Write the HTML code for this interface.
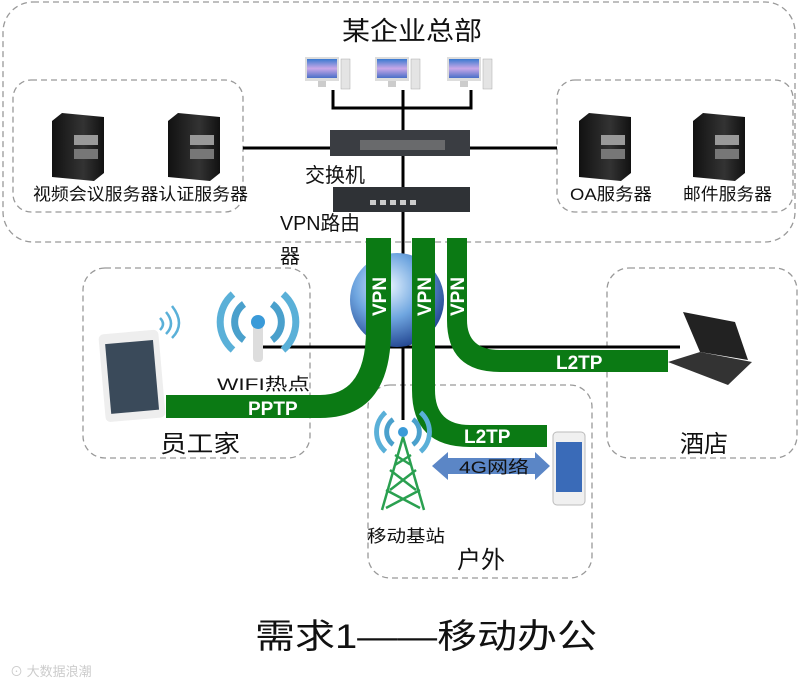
<!DOCTYPE html>
<html><head><meta charset="utf-8"><style>
html,body{margin:0;padding:0;background:#fff;}
svg{display:block;font-family:"Liberation Sans","Noto Sans CJK SC",sans-serif;}
</style></head><body>
<svg width="800" height="685" viewBox="0 0 800 685" xmlns="http://www.w3.org/2000/svg">
<defs>
<radialGradient id="gl" cx="0.4" cy="0.35" r="0.7"><stop offset="0" stop-color="#e8f4ff"/><stop offset="0.5" stop-color="#6fa6e0"/><stop offset="1" stop-color="#1d3f8c"/></radialGradient>
<linearGradient id="srv" x1="0" x2="1"><stop offset="0" stop-color="#111"/><stop offset="0.6" stop-color="#333"/><stop offset="1" stop-color="#111"/></linearGradient>
<linearGradient id="mon" x1="0" y1="0" x2="0" y2="1"><stop offset="0" stop-color="#3a7ad0"/><stop offset="0.5" stop-color="#c9a8e8"/><stop offset="1" stop-color="#4a6fc8"/></linearGradient>
<g id="server"><polygon points="0,8 10,0 52,4 52,60 42,68 0,64" fill="url(#srv)"/><rect x="22" y="22" width="24" height="10" fill="#999"/><rect x="22" y="36" width="24" height="10" fill="#777"/></g>
<g id="pc"><rect x="0" y="0" width="34" height="24" fill="#ddd"/><rect x="2" y="2" width="30" height="19" fill="url(#mon)"/><rect x="13" y="24" width="8" height="6" fill="#ccc"/><rect x="36" y="2" width="9" height="30" fill="#e4e4e4" stroke="#aaa" stroke-width="0.5"/></g>
<g id="wifi" fill="none" stroke="#4aa0cc" stroke-width="7"><path d="M-14,-18 A22,22 0 0 0 -14,18"/><path d="M14,-18 A22,22 0 0 1 14,18"/><path d="M-25,-28 A37,37 0 0 0 -25,28" stroke="#5ab0d8"/><path d="M25,-28 A37,37 0 0 1 25,28" stroke="#5ab0d8"/></g>
</defs>
<g fill="none" stroke="#999" stroke-width="1.3" stroke-dasharray="6,4">
<rect x="3" y="2" width="792" height="240" rx="30"/>
<rect x="13" y="80" width="230" height="132" rx="18"/>
<rect x="557" y="80" width="236" height="132" rx="18"/>
<rect x="83" y="268" width="227" height="190" rx="22"/>
<rect x="607" y="268" width="190" height="190" rx="22"/>
<rect x="368" y="385" width="224" height="193" rx="22"/>
</g>
<text x="412" y="40" font-size="26" text-anchor="middle" fill="#111" textLength="140" lengthAdjust="spacingAndGlyphs">某企业总部</text>
<use href="#pc" x="305" y="57"/><use href="#pc" x="375" y="57"/><use href="#pc" x="447" y="57"/>
<g stroke="#000" stroke-width="3" fill="none">
<path d="M333,90 V108 H471 V90 M403,90 V130"/>
<path d="M243,148 H557"/>
<path d="M403,156 V420"/>
<path d="M258,347 H680"/>
</g>
<use href="#server" x="52" y="113"/><use href="#server" x="168" y="113"/><use href="#server" x="579" y="113"/><use href="#server" x="693" y="113"/>
<rect x="330" y="130" width="140" height="26" fill="#3a3d42"/><rect x="360" y="140" width="85" height="10" fill="#888" opacity="0.6"/>
<text x="305" y="182" font-size="20" fill="#111">交换机</text>
<rect x="333" y="187" width="137" height="25" fill="#2f3236"/><g fill="#ccc"><rect x="370" y="200" width="6" height="5"/><rect x="380" y="200" width="6" height="5"/><rect x="390" y="200" width="6" height="5"/><rect x="400" y="200" width="6" height="5"/><rect x="410" y="200" width="6" height="5"/></g>
<g font-size="17" fill="#111"><text x="33" y="200" textLength="215" lengthAdjust="spacingAndGlyphs">视频会议服务器认证服务器</text><text x="570" y="200" textLength="82" lengthAdjust="spacingAndGlyphs">OA服务器</text><text x="683" y="200" textLength="89" lengthAdjust="spacingAndGlyphs">邮件服务器</text></g>
<text x="280" y="230" font-size="20" fill="#111" textLength="80" lengthAdjust="spacingAndGlyphs">VPN路由</text><text x="280" y="263" font-size="20" fill="#111">器</text>
<circle cx="397" cy="300" r="47" fill="url(#gl)"/>
<g fill="#0b7a14">
<path d="M366,238 H391 V330 Q391,418 320,418 H166 V395 H320 Q366,395 366,330 Z"/>
<path d="M412,238 H435 V390 Q435,425 470,425 H547 V447 H470 Q412,447 412,390 Z"/>
<path d="M447,238 H467 V320 Q467,350 500,350 H668 V372 H500 Q447,372 447,320 Z"/>
</g>
<g fill="#fff" font-weight="bold" font-size="19">
<text transform="translate(386,316) rotate(-90)">VPN</text>
<text transform="translate(431,316) rotate(-90)">VPN</text>
<text transform="translate(464,316) rotate(-90)">VPN</text>
<text x="248" y="415">PPTP</text><text x="464" y="443">L2TP</text><text x="556" y="369">L2TP</text>
</g>
<use href="#wifi" x="258" y="322"/><rect x="253" y="322" width="10" height="40" rx="4" fill="#ddd"/><circle cx="258" cy="322" r="7" fill="#3a9ad8"/>
<g fill="none" stroke="#5ab0d8" stroke-width="2.5"><path d="M160,330 q6,-6 0,-12"/><path d="M166,334 q10,-10 0,-22"/><path d="M172,338 q14,-14 0,-32"/></g>
<rect x="102" y="332" width="60" height="88" rx="5" fill="#eee" transform="rotate(-5 131 376)"/><rect x="108" y="342" width="48" height="70" fill="#3a4a5a" transform="rotate(-5 131 376)"/>
<g font-size="17" fill="#111"><text x="217" y="390" textLength="93" lengthAdjust="spacingAndGlyphs">WIFI热点</text><text x="367" y="542" textLength="78" lengthAdjust="spacingAndGlyphs">移动基站</text></g>
<g font-size="24" fill="#111"><text x="160" y="452" textLength="80" lengthAdjust="spacingAndGlyphs">员工家</text><text x="680" y="452">酒店</text><text x="457" y="568">户外</text></g>
<use href="#wifi" x="403" y="432" transform="translate(403 432) scale(0.7) translate(-403 -432)"/><circle cx="403" cy="432" r="5" fill="#3a9ad8"/>
<g stroke="#2aa050" stroke-width="2.5" fill="none"><path d="M403,437 L382,510 M403,437 L424,510 M390,470 L416,490 M416,470 L390,490 M386,490 L420,508 M420,490 L386,508 M395,455 L411,465 M411,455 L395,465"/></g>
<polygon points="432,466 448,452 448,458 535,458 535,452 550,466 535,480 535,474 448,474 448,480" fill="#5b86c6"/>
<text x="459" y="473" font-size="17" fill="#111" textLength="70" lengthAdjust="spacingAndGlyphs">4G网络</text>
<rect x="553" y="432" width="32" height="73" rx="4" fill="#f0f0f0" stroke="#bbb"/><rect x="556" y="442" width="26" height="50" fill="#3a6bb8"/>
<polygon points="683,312 735,322 748,360 700,352" fill="#222"/><polygon points="668,362 700,352 752,362 728,385" fill="#333"/>
<text x="255" y="648" font-size="34" fill="#111" textLength="342" lengthAdjust="spacingAndGlyphs">需求1——移动办公</text>
<text x="10" y="676" font-size="13" fill="#ccc">⊙ 大数据浪潮</text>
</svg>
</body></html>
